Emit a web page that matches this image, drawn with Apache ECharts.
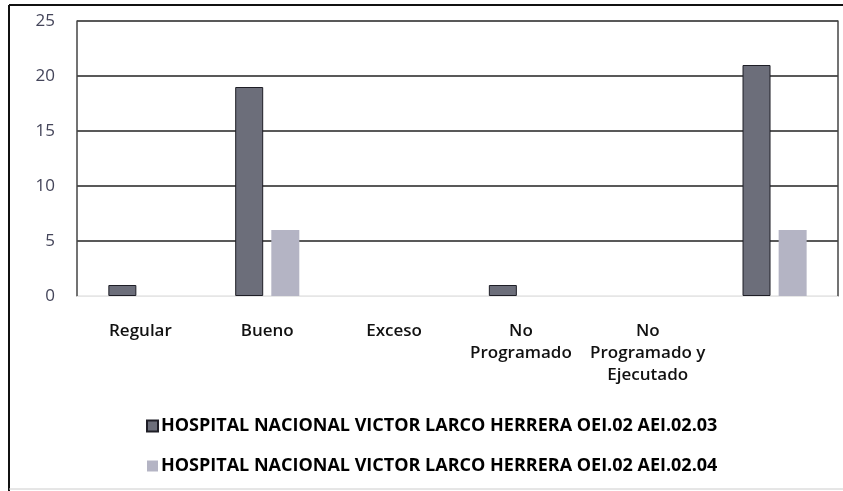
<!DOCTYPE html>
<html>
<head>
<meta charset="utf-8">
<script src="https://cdn.jsdelivr.net/npm/echarts@6/dist/echarts.min.js"></script>
<style>
html,body{margin:0;padding:0;background:#fff;}
#chart{width:843px;height:491px;}
</style>
</head>
<body>
<div id="chart"></div>
<script>
const categories = ['Regular', 'Bueno', 'Exceso', 'No\nProgramado', 'No\nProgramado y\nEjecutado', ''];
const seriesNames = [
  'HOSPITAL NACIONAL VICTOR LARCO HERRERA OEI.02 AEI.02.03',
  'HOSPITAL NACIONAL VICTOR LARCO HERRERA OEI.02 AEI.02.04'
];
const valuesA = [1, 19, 0, 1, 0, 21];
const valuesB = [0, 6, 0, 0, 0, 6];
const yTicks = { min: 0, max: 25, interval: 5 };

const hideZero = arr => arr.map(v => (v === 0 ? null : v));
const chart = echarts.init(document.getElementById('chart'), null, { renderer: 'canvas' });
const font = 'Open Sans';
chart.setOption({
  animation: false,
  backgroundColor: '#fff',
  grid: { left: 77, right: 5, top: 21, bottom: 195, containLabel: false },
  legend: {
    orient: 'vertical',
    left: 141,
    top: 412,
    itemGap: 22,
    itemWidth: 11,
    itemHeight: 11,
    icon: 'rect',
    textStyle: { fontFamily: font, fontSize: 18, fontWeight: 'bold', color: '#000', padding: [0, 0, 0, -2] },
    data: seriesNames
  },
  xAxis: {
    type: 'category',
    data: categories,
    axisLine: { show: true, lineStyle: { color: '#e6e6e6', width: 1 } },
    axisTick: { show: false },
    axisLabel: { fontFamily: font, fontSize: 17, fontWeight: 600, color: '#111', margin: 24, lineHeight: 22, interval: 0 }
  },
  yAxis: [{
    type: 'value',
    min: yTicks.min, max: yTicks.max, interval: yTicks.interval,
    axisLine: { show: true, lineStyle: { color: '#444', width: 1.5 } },
    axisTick: { show: false },
    axisLabel: { fontFamily: font, fontSize: 17, color: '#44455a', margin: 22 },
    splitLine: { show: true, lineStyle: { color: ['#e6e6e6', '#222', '#222', '#222', '#222', '#222'], width: 1.5 } }
  }, {
    type: 'value', position: 'right',
    min: yTicks.min, max: yTicks.max, interval: yTicks.interval,
    axisLine: { show: true, lineStyle: { color: '#444', width: 1.5 } },
    axisTick: { show: false }, axisLabel: { show: false }, splitLine: { show: false }
  }],
  graphic: [
    { type: 'line', shape: { x1: 9, y1: 5, x2: 843, y2: 5 }, style: { stroke: '#111', lineWidth: 2 } },
    { type: 'line', shape: { x1: 9, y1: 5, x2: 9, y2: 491 }, style: { stroke: '#111', lineWidth: 2 } },
    { type: 'line', shape: { x1: 9, y1: 489, x2: 843, y2: 489 }, style: { stroke: '#ccc', lineWidth: 1 } }
  ],
  series: [{
    name: seriesNames[0], type: 'bar', data: hideZero(valuesA), barWidth: 28, barGap: '29%',
    itemStyle: { color: '#6c6e7a', borderColor: '#1e1e26', borderWidth: 1 }
  }, {
    name: seriesNames[1], type: 'bar', data: hideZero(valuesB), barWidth: 28,
    itemStyle: { color: '#b4b4c4' }
  }]
});
</script>
</body>
</html>
